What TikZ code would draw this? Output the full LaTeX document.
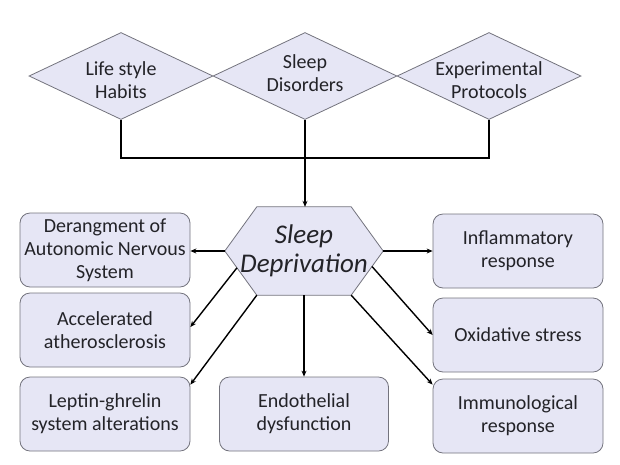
\documentclass[tikz,border=0pt]{standalone}
\usepackage{fontspec}
\setmainfont{Carlito}
\usetikzlibrary{shapes.geometric,arrows.meta,calc,backgrounds}
\definecolor{fillc}{RGB}{230,230,245}
\definecolor{edgec}{RGB}{115,115,125}
\definecolor{txtc}{RGB}{35,35,40}
\begin{document}
\begin{tikzpicture}[x=1pt,y=-1pt,
  every node/.style={text=txtc},
  dia/.style={diamond, draw=edgec, line width=0.8pt, fill=fillc, inner sep=0pt, minimum width=184pt, minimum height=87pt},
  lbl/.style={align=center, font=\fontsize{20}{23}\selectfont, inner sep=0pt},
  box/.style={rounded corners=10pt, draw=edgec, line width=0.8pt, fill=fillc, minimum width=170pt, minimum height=74pt, align=center, font=\fontsize{20}{23}\selectfont, inner sep=0pt},
  hexs/.style={draw=edgec, line width=0.8pt, fill=fillc},
  link/.style={line width=1.4pt},
  arr/.style={line width=1.4pt, -{Stealth[length=6pt,width=5pt]}}]
\useasboundingbox (0,0) rectangle (620,464);
% diamonds
\node[dia] (d1) at (121,76) {};
\node[dia] (d2) at (305,76) {};
\node[dia] (d3) at (489,76) {};
\node[lbl] (t1) at (121,80) {Life style\\Habits};
\node[lbl] (t2) at (305,73) {Sleep\\Disorders};
\node[lbl] (t3) at (489,80) {Experimental\\Protocols};
% central hexagon
\node[minimum width=158pt, minimum height=88pt, inner sep=0pt, align=center,
      font=\fontsize{27}{29}\selectfont\itshape] (hex) at (304,251) {Sleep\\Deprivation};
\coordinate (hTL) at ($(hex.north west)+(32,0)$);
\coordinate (hTR) at ($(hex.north east)+(-32,0)$);
\coordinate (hBL) at ($(hex.south west)+(32,0)$);
\coordinate (hBR) at ($(hex.south east)+(-32,0)$);
\begin{scope}[on background layer]
\draw[hexs] (hex.west) -- (hTL) -- (hTR) -- (hex.east) -- (hBR) -- (hBL) -- cycle;
\end{scope}
% boxes
\node[box] (b1) at (105,250) {Derangment of\\Autonomic Nervous\\System};
\node[box] (b2) at (105,330) {Accelerated\\atherosclerosis};
\node[box] (b3) at (105,414) {Leptin-ghrelin\\system alterations};
\node[box, minimum width=169pt] (b4) at (304,414) {Endothelial\\dysfunction};
\node[box] (b5) at (518,251) {Inflammatory\\response};
\node[box] (b6) at (518,335) {Oxidative stress};
\node[box] (b7) at (518,416) {Immunological\\response};
% top connector
\draw[link] (d1.south) -- ++(0,38) -| (d3.south);
\draw[arr] (d2.south) -- (d2.south |- hex.north);
% outgoing arrows
\draw[arr] (hex.west) -- (hex.west -| b1.east);
\draw[arr] ($(hex.west)!0.38!(hBL)$) -- ($(b2.east)+(0,-3)$);
\draw[arr] (hBL) -- ($(b3.north east)+(0,8)$);
\draw[arr] (hex.south) -- (hex.south |- b4.north);
\draw[arr] (hex.east) -- (hex.east -| b5.west);
\draw[arr] ($(hex.east)!0.35!(hBR)$) -- (b6.west);
\draw[arr] (hBR) -- ($(b7.north west)+(0,6)$);
\end{tikzpicture}
\end{document}
